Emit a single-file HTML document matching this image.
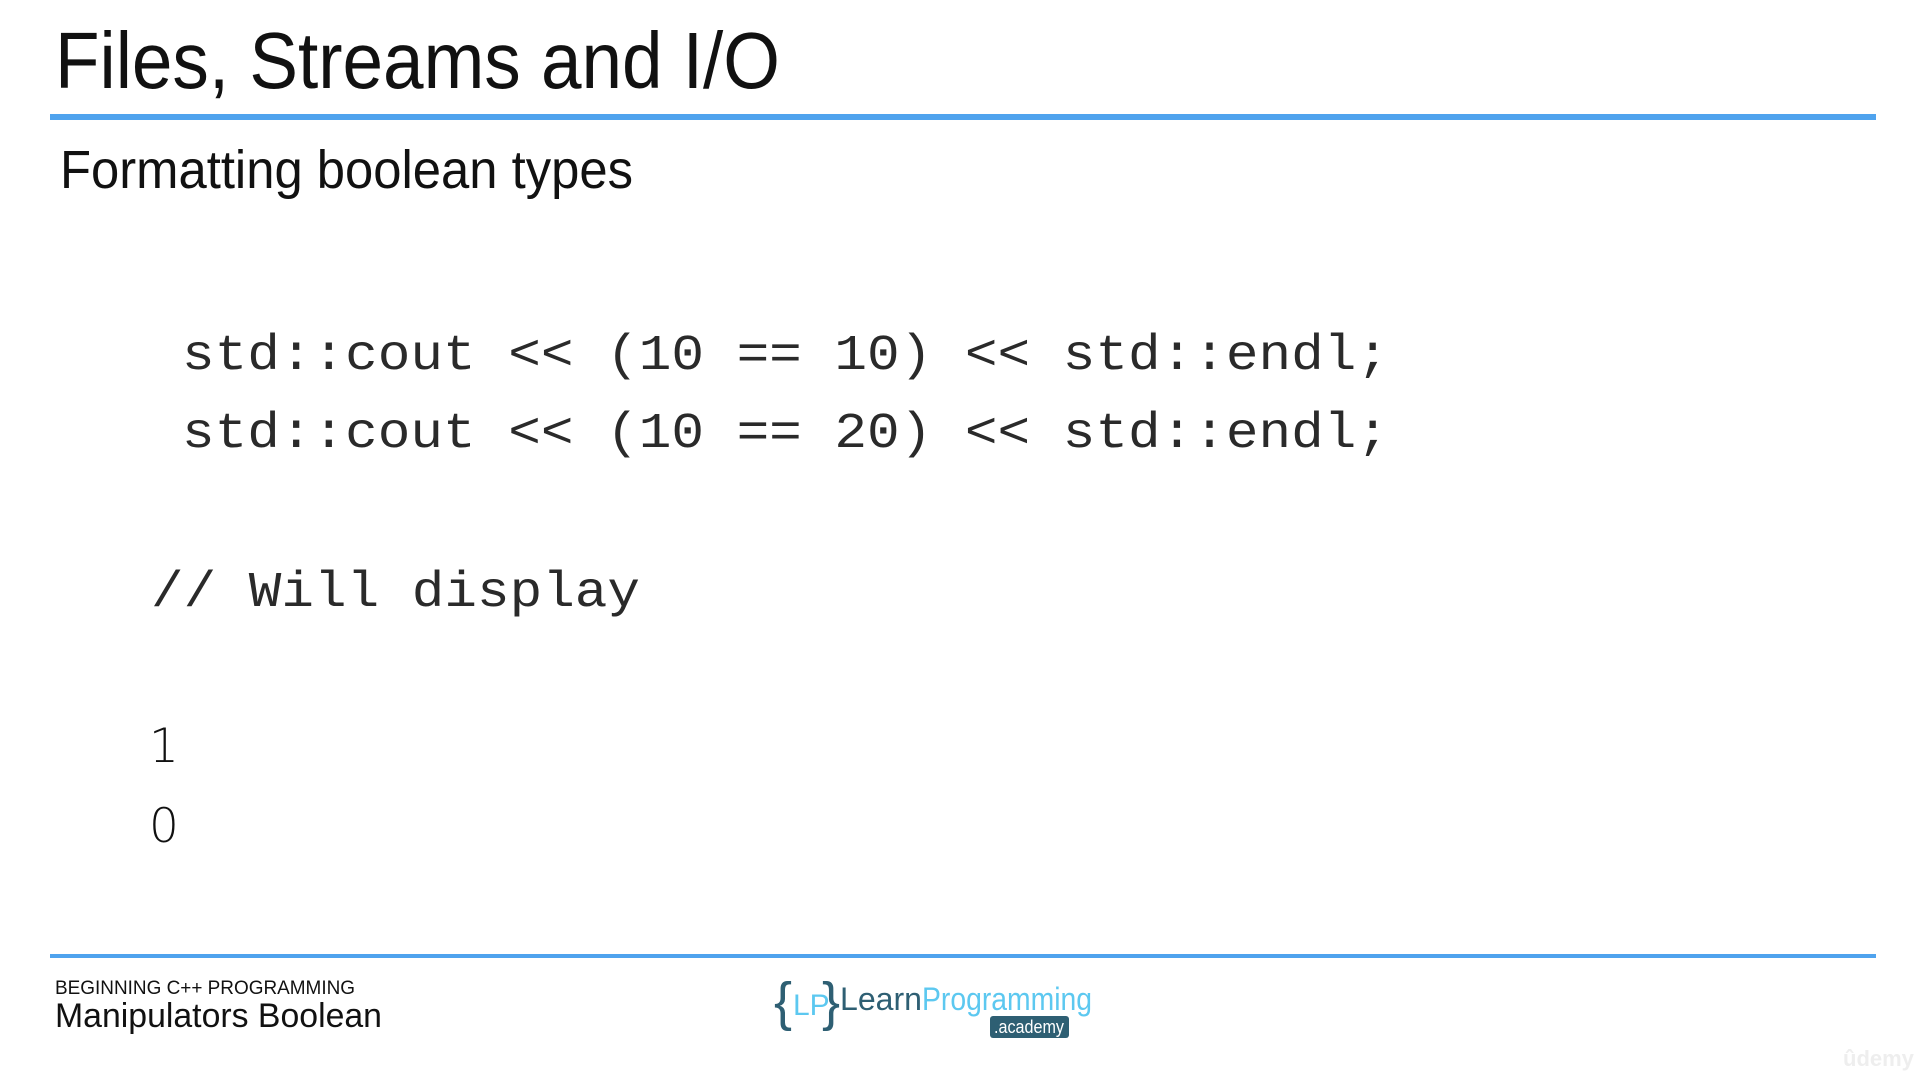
<!DOCTYPE html>
<html><head><meta charset="utf-8"><style>
html,body{margin:0;padding:0;background:#fff;width:1920px;height:1080px;overflow:hidden}
</style></head><body>
<svg width="1920" height="1080" viewBox="0 0 1920 1080" xmlns="http://www.w3.org/2000/svg">
<rect width="1920" height="1080" fill="#fff"/>
<text x="55" y="88" font-family="Liberation Sans, sans-serif" font-size="80" fill="#111" textLength="725" lengthAdjust="spacingAndGlyphs">Files, Streams and I/O</text>
<rect x="50" y="114" width="1826" height="6" fill="#4fa3ee"/>
<text x="60" y="188" font-family="Liberation Sans, sans-serif" font-size="54" fill="#111" textLength="573" lengthAdjust="spacingAndGlyphs">Formatting boolean types</text>
<g font-family="Liberation Mono, monospace" font-size="50" fill="#2a2a2a">
<text x="182" y="369" textLength="1207" lengthAdjust="spacingAndGlyphs">std::cout &lt;&lt; (10 == 10) &lt;&lt; std::endl;</text>
<text x="182" y="447" textLength="1207" lengthAdjust="spacingAndGlyphs">std::cout &lt;&lt; (10 == 20) &lt;&lt; std::endl;</text>
<text x="151" y="606" textLength="489" lengthAdjust="spacingAndGlyphs">// Will display</text>
</g>
<g font-family="DejaVu Sans, sans-serif" font-size="47" fill="#111" font-weight="300">
<text x="149" y="762">1</text>
<text x="149" y="842">0</text>
</g>
<rect x="50" y="954" width="1826" height="4" fill="#4fa3ee"/>
<text x="55" y="994" font-family="Liberation Sans, sans-serif" font-size="19" fill="#111" textLength="300" lengthAdjust="spacingAndGlyphs">BEGINNING C++ PROGRAMMING</text>
<text x="55" y="1027" font-family="Liberation Sans, sans-serif" font-size="34" fill="#111" textLength="327" lengthAdjust="spacingAndGlyphs">Manipulators Boolean</text>
<text x="774" y="1020" font-family="Liberation Sans, sans-serif" font-size="54" fill="#2e5f73" font-weight="300">{</text>
<text x="793" y="1015" font-family="Liberation Sans, sans-serif" font-size="30" fill="#5cc8f0">LP</text>
<text x="822" y="1020" font-family="Liberation Sans, sans-serif" font-size="54" fill="#2e5f73" font-weight="300">}</text>
<text x="840" y="1010" font-family="Liberation Sans, sans-serif" font-size="32" fill="#2e5f73" textLength="82" lengthAdjust="spacingAndGlyphs">Learn</text>
<text x="922" y="1010" font-family="Liberation Sans, sans-serif" font-size="32" fill="#5cc8f0" textLength="170" lengthAdjust="spacingAndGlyphs">Programming</text>
<rect x="990" y="1016" width="79" height="22" rx="3" fill="#2e5f73"/>
<text x="994" y="1033" font-family="Liberation Sans, sans-serif" font-size="18" fill="#fff" textLength="70" lengthAdjust="spacingAndGlyphs">.academy</text>
<text x="1843" y="1066" font-family="Liberation Sans, sans-serif" font-size="22" fill="#eee" font-weight="bold">ûdemy</text>
</svg>
</body></html>
